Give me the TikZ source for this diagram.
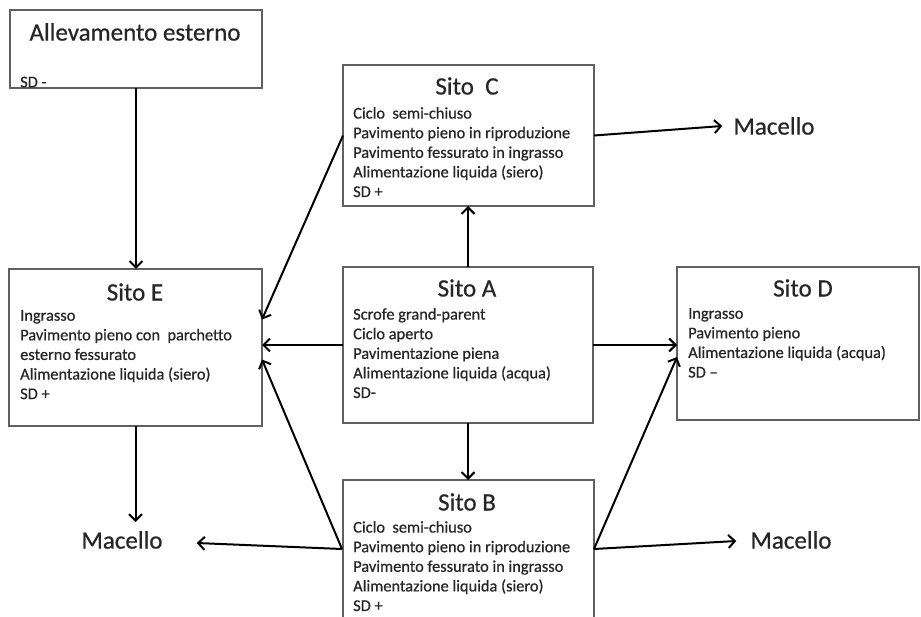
\documentclass[tikz,border=0pt]{standalone}
\usepackage{fontspec}
\setmainfont{Carlito}[FakeBold=0.6]
\usetikzlibrary{arrows.meta,calc}
\definecolor{boxline}{HTML}{606060}
\definecolor{txt}{HTML}{262626}
\tikzset{
  box/.style={draw=boxline, line width=1.7pt, fill=white, anchor=north west, inner sep=0pt, outer sep=0pt},
  ttl/.style={text=txt, font=\fontsize{25}{29}\selectfont, inner sep=0pt},
  body/.style={text=txt, font=\fontsize{16.4}{19.6}\selectfont, align=left, anchor=north west, inner sep=0pt},
  conn/.style={draw=black, line width=2pt, -{Straight Barb[length=6.5pt,width=13pt,line width=2pt]}},
}
\begin{document}
\begin{tikzpicture}[x=1pt,y=-1pt]
\useasboundingbox (0,0) rectangle (921,617);
% boxes
\node[box, minimum width=252, minimum height=78] (alle) at (10,10) {};
\node[box, minimum width=251, minimum height=141] (C) at (343,65) {};
\node[box, minimum width=253, minimum height=157] (E) at (9,269) {};
\node[box, minimum width=250, minimum height=156] (A) at (343,267) {};
\node[box, minimum width=242, minimum height=153] (D) at (677,267) {};
\node[box, minimum width=251, minimum height=142] (B) at (343,480) {};
% titles
\node[ttl] (alleT) at (135,32) {Allevamento esterno};
\node[ttl] (CT) at (467,86) {Sito\ \ C};
\node[ttl] (ET) at (135,292) {Sito E};
\node[ttl] (AT) at (467,288) {Sito A};
\node[ttl] (DT) at (803,288) {Sito D};
\node[ttl] (BT) at (467,502) {Sito B};
% bodies
\node[body] (alleB) at (20,76.5) {SD -};
\node[body] (CB) at (353,107) {Ciclo\ \ semi-chiuso\\Pavimento pieno in riproduzione\\Pavimento fessurato in ingrasso\\Alimentazione liquida (siero)\\SD +};
\node[body] (EB) at (20,310) {Ingrasso\\Pavimento pieno con\ \ parchetto\\esterno fessurato\\Alimentazione liquida (siero)\\SD +};
\node[body] (AB) at (353,308) {Scrofe grand-parent\\Ciclo aperto\\Pavimentazione piena\\Alimentazione liquida (acqua)\\SD-};
\node[body] (DB) at (688,308) {Ingrasso\\Pavimento pieno\\Alimentazione liquida (acqua)\\SD --};
\node[body] (BB) at (353,521) {Ciclo\ \ semi-chiuso\\Pavimento pieno in riproduzione\\Pavimento fessurato in ingrasso\\Alimentazione liquida (siero)\\SD +};
% Macello
\node[ttl] (mC) at (774,126) {Macello};
\node[ttl] (mE) at (122,540) {Macello};
\node[ttl] (mB) at (791,540) {Macello};
% ports
\coordinate (Bl) at ($(B.north west)+(-1,69)$);
\coordinate (Br) at ($(B.north east)+(0,69)$);
% connectors
\draw[conn] (alle.south) -- (alle.south |- E.north);
\draw[conn] (E.south) -- ($(E.south |- mE.north)+(0,-9)$);
\draw[conn] (Bl) -- ($(mE.east)+(34,3)$);
\draw[conn] (Bl) -- ($(E.east)+(0,12)$);
\draw[conn] (A.west) -- (A.west -| E.east);
\draw[conn] (C.west) -- ($(E.east)+(0,-28)$);
\draw[conn] (A.north) -- (A.north |- C.south);
\draw[conn] (A.south) -- (A.south |- B.north);
\draw[conn] (A.east) -- (A.east -| D.west);
\draw[conn] (Br) -- ($(D.west)+(0,13.5)$);
\draw[conn] (Br) -- ($(mB.west)+(-14,1)$);
\draw[conn] (C.east) -- ($(mC.west)+(-11,0)$);
\end{tikzpicture}
\end{document}
